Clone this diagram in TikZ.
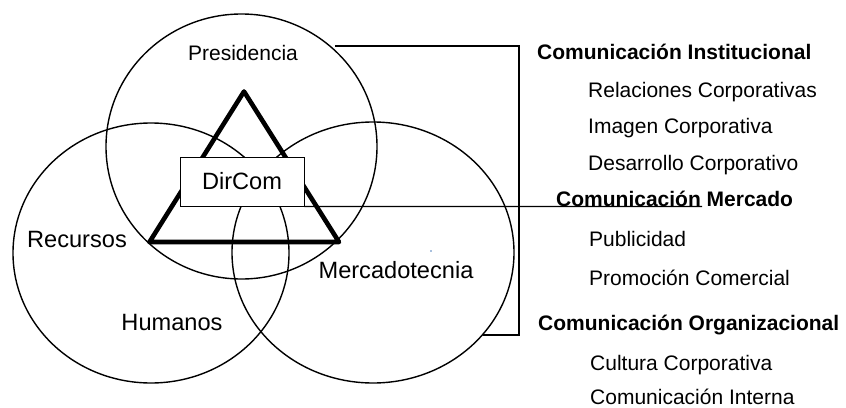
\documentclass[tikz,border=0pt]{standalone}
\usepackage{fontspec}
\setmainfont{Liberation Sans}
\definecolor{dotblue}{RGB}{79,129,189}
\begin{document}
\begin{tikzpicture}[x=1pt,y=-1pt,
  circ/.style={line width=1.4pt},
  conn/.style={line width=1.4pt},
  tri/.style={line width=4.6pt, line join=round},
  lbl/.style={inner sep=0pt, anchor=base, font=\fontsize{23.6}{28}\selectfont},
  lblsmall/.style={inner sep=0pt, anchor=base, font=\fontsize{21}{25}\selectfont},
  head/.style={inner sep=0pt, anchor=base west, font=\fontsize{21}{25}\selectfont\bfseries},
  item/.style={inner sep=0pt, anchor=base west, font=\fontsize{21}{25}\selectfont},
  dirbox/.style={draw, fill=white, line width=0.9pt, minimum width=124pt, minimum height=49pt, inner sep=0pt, font=\fontsize{23.6}{28}\selectfont}]
\useasboundingbox (0,0) rectangle (846,407);
\fill[white] (0,0) rectangle (846,407);
% circles
\coordinate (cP) at (241.5,146.5);
\coordinate (cR) at (151,253);
\coordinate (cM) at (373,252.5);
\draw[circ] (cP) ellipse [x radius=135.5pt, y radius=132.5pt];
\draw[circ] (cR) ellipse [x radius=138pt, y radius=130pt];
\draw[circ] (cM) ellipse [x radius=141pt, y radius=130.5pt];
% triangle
\coordinate (tA) at (244,91.5);
\coordinate (tL) at (149.5,242);
\coordinate (tR) at (339,242);
\draw[tri] (tA) -- (tL) -- (tR) -- cycle;
% DirCom box
\node[dirbox] (dircom) at (242,181.5) {DirCom};
% bracket
\coordinate (pTop) at (335,46);
\coordinate (bTR) at (519,46);
\coordinate (bBR) at (519,335);
\coordinate (mBot) at (483,335);
\draw[conn] (pTop) -- (bTR) -- (bBR) -- (mBot);
% line from DirCom to Comunicacion Mercado
\coordinate (uEnd) at (702,206.5);
\draw[conn] (dircom.south east) -- (uEnd);
% blue dot
\fill[dotblue] (431,251) circle (0.9pt);
% circle labels
\node[lblsmall] (lP) at (243,60) {Presidencia};
\node[lbl] (lR) at (77,247) {Recursos};
\node[lbl] (lH) at (172,330) {Humanos};
\node[lbl] (lM) at (396,278) {Mercadotecnia};
% right column
\node[head] (h1) at (537,59) {Comunicación Institucional};
\node[item] (i1) at (588,97) {Relaciones Corporativas};
\node[item] (i2) at (588,133) {Imagen Corporativa};
\node[item] (i3) at (588,170) {Desarrollo Corporativo};
\node[head] (h2) at (556,206) {Comunicación Mercado};
\node[item] (i4) at (589,246) {Publicidad};
\node[item] (i5) at (589,285) {Promoción Comercial};
\node[head] (h3) at (538,330) {Comunicación Organizacional};
\node[item] (i6) at (590,370) {Cultura Corporativa};
\node[item] (i7) at (590,404) {Comunicación Interna};
\end{tikzpicture}
\end{document}
